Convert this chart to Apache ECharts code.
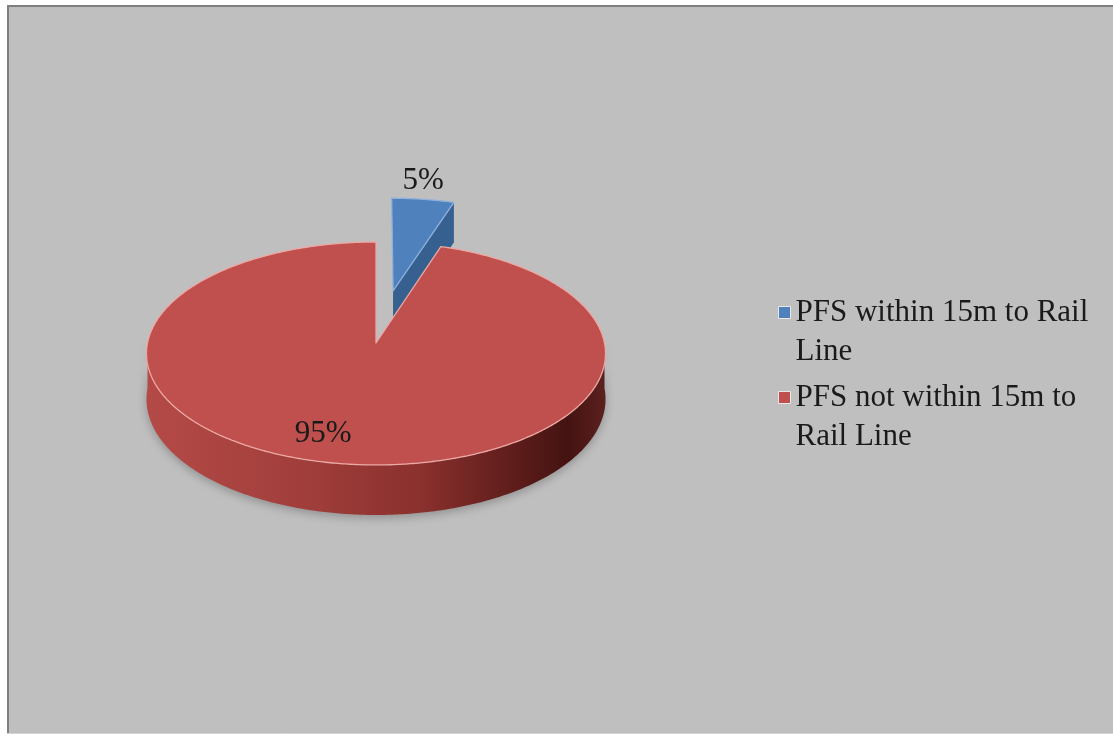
<!DOCTYPE html>
<html><head><meta charset="utf-8">
<script src="https://cdn.jsdelivr.net/npm/echarts@6/dist/echarts.min.js"></script>
<style>html,body{margin:0;padding:0;background:#fff}#chart{width:1113px;height:736px}</style>
</head><body><div id="chart"></div>
<script>
// ---- data ----
const categories = ['PFS within 15m to Rail Line', 'PFS not within 15m to Rail Line'];
const values = [5, 95];
const legendLabels = ['PFS within 15m to Rail\nLine', 'PFS not within 15m to\nRail Line'];
const explode = [0.5, 0];

// ---- styles / geometry ----
const topColors = ['#4f81bd', '#c0504d'];
const topStrokes = ['#8fb1dc', '#eba9a5'];
const sideColors = ['#35608f', '#8f3431'];
const wallStops = [
  [[0, '#3f6a9c'], [1, '#203f63']],
  [[0, '#b44a47'], [0.35, '#a03e3b'], [0.6, '#8a302d'], [0.8, '#5e1d1b'], [0.92, '#441311'], [1, '#5a201e']]
];
const P = { cx: 376, cy: 343, b: 228.5, a: 110.5, k: 0.094, h: 45.3 };
const labelCfg = [
  { r: 1.0, dx: 0, dy: -3, va: 'bottom' },
  { r: 0.8, dx: -22, dy: -3, va: 'middle' }
];

const total = values.reduce((s, v) => s + v, 0);
function proj(u, v, z) {
  const f = 1 / (1 + P.k * v);
  return [P.cx + P.b * u * f, P.cy - P.a * v * f + P.h * z * f];
}

function makeRender(i) {
  return function (params, api) {
    const val = api.value(0);
    let cum = 0;
    for (let j = 0; j < i; j++) cum += values[j];
    const t0 = cum / total * Math.PI * 2;
    const t1 = (cum + val) / total * Math.PI * 2;
    const mid = (t0 + t1) / 2;
    const ou = explode[i] * Math.sin(mid), ov = explode[i] * Math.cos(mid);
    const pt = (th, r, z) => proj(ou + r * Math.sin(th), ov + r * Math.cos(th), z);
    const arc = (a0, a1, z) => {
      const n = Math.max(2, Math.ceil((a1 - a0) / 0.01));
      const out = [];
      for (let s = 0; s <= n; s++) out.push(pt(a0 + (a1 - a0) * s / n, 1, z));
      return out;
    };
    const children = [];
    // outer wall (front part)
    const w0 = Math.max(t0, Math.PI / 2), w1 = Math.min(t1, Math.PI * 1.5);
    if (w1 > w0) {
      const pts = arc(w0, w1, 0).concat(arc(w0, w1, 1).reverse());
      children.push({
        type: 'polygon', shape: { points: pts },
        style: {
          fill: { type: 'linear', x: P.cx - P.b, y: 0, x2: P.cx + P.b, y2: 0, global: true,
            colorStops: wallStops[i].map(s => ({ offset: s[0], color: s[1] })) },
          shadowBlur: 10, shadowColor: 'rgba(0,0,0,0.25)', shadowOffsetY: 3
        }
      });
    }
    // radial walls
    const walls = [[t0, -Math.sin(t0)], [t1, Math.sin(t1)]];
    walls.forEach(([th, facing]) => {
      if (facing > 1e-6) {
        children.push({
          type: 'polygon',
          shape: { points: [pt(th, 0, 0), pt(th, 1, 0), pt(th, 1, 1), pt(th, 0, 1)] },
          style: { fill: sideColors[i] }
        });
      }
    });
    // top face
    const topPts = [pt(0, 0, 0)].concat(arc(t0, t1, 0));
    children.push({
      type: 'polygon', shape: { points: topPts },
      style: { fill: topColors[i], stroke: topStrokes[i], lineWidth: 1.3, lineJoin: 'round' }
    });
    // label
    const lc = labelCfg[i];
    const lp = pt(mid, lc.r, 0);
    children.push({
      type: 'text', x: lp[0] + lc.dx, y: lp[1] + lc.dy, z2: 10,
      style: {
        text: Math.round(val / total * 100) + '%',
        fill: '#1a1a1a', fontFamily: 'Liberation Serif', fontSize: 31,
        align: 'center', verticalAlign: lc.va
      }
    });
    return { type: 'group', children };
  };
}

const chart = echarts.init(document.getElementById('chart'));
chart.setOption({
  backgroundColor: '#ffffff',
  animation: false,
  graphic: [
    { type: 'rect', z: -10, shape: { x: 7, y: 5, width: 1106, height: 728 }, style: { fill: '#bfbfbf' } },
    { type: 'line', z: -9, shape: { x1: 7, y1: 6, x2: 1113, y2: 6 }, style: { stroke: '#7f7f7f', lineWidth: 2 } },
    { type: 'line', z: -9, shape: { x1: 8, y1: 5, x2: 8, y2: 733 }, style: { stroke: '#7f7f7f', lineWidth: 2 } },
    { type: 'line', z: -9, shape: { x1: 7, y1: 733.5, x2: 1113, y2: 733.5 }, style: { stroke: '#d4d4d4', lineWidth: 1 } }
  ],
  legend: {
    orient: 'vertical',
    left: 773, top: 249,
    icon: 'rect', itemWidth: 12, itemHeight: 12, itemGap: -32,
    itemStyle: { borderColor: '#e8e8e8', borderWidth: 1 },
    data: categories,
    // leading blank line keeps the icon level with the first text line
    formatter: name => '\n' + legendLabels[categories.indexOf(name)],
    textStyle: {
      fontFamily: 'Liberation Serif', fontSize: 31, color: '#1a1a1a',
      lineHeight: 39
    }
  },
  series: categories.map((name, i) => ({
    type: 'custom', name, coordinateSystem: 'none',
    itemStyle: { color: topColors[i] },
    renderItem: makeRender(i),
    data: [values[i]]
  }))
});
</script></body></html>
